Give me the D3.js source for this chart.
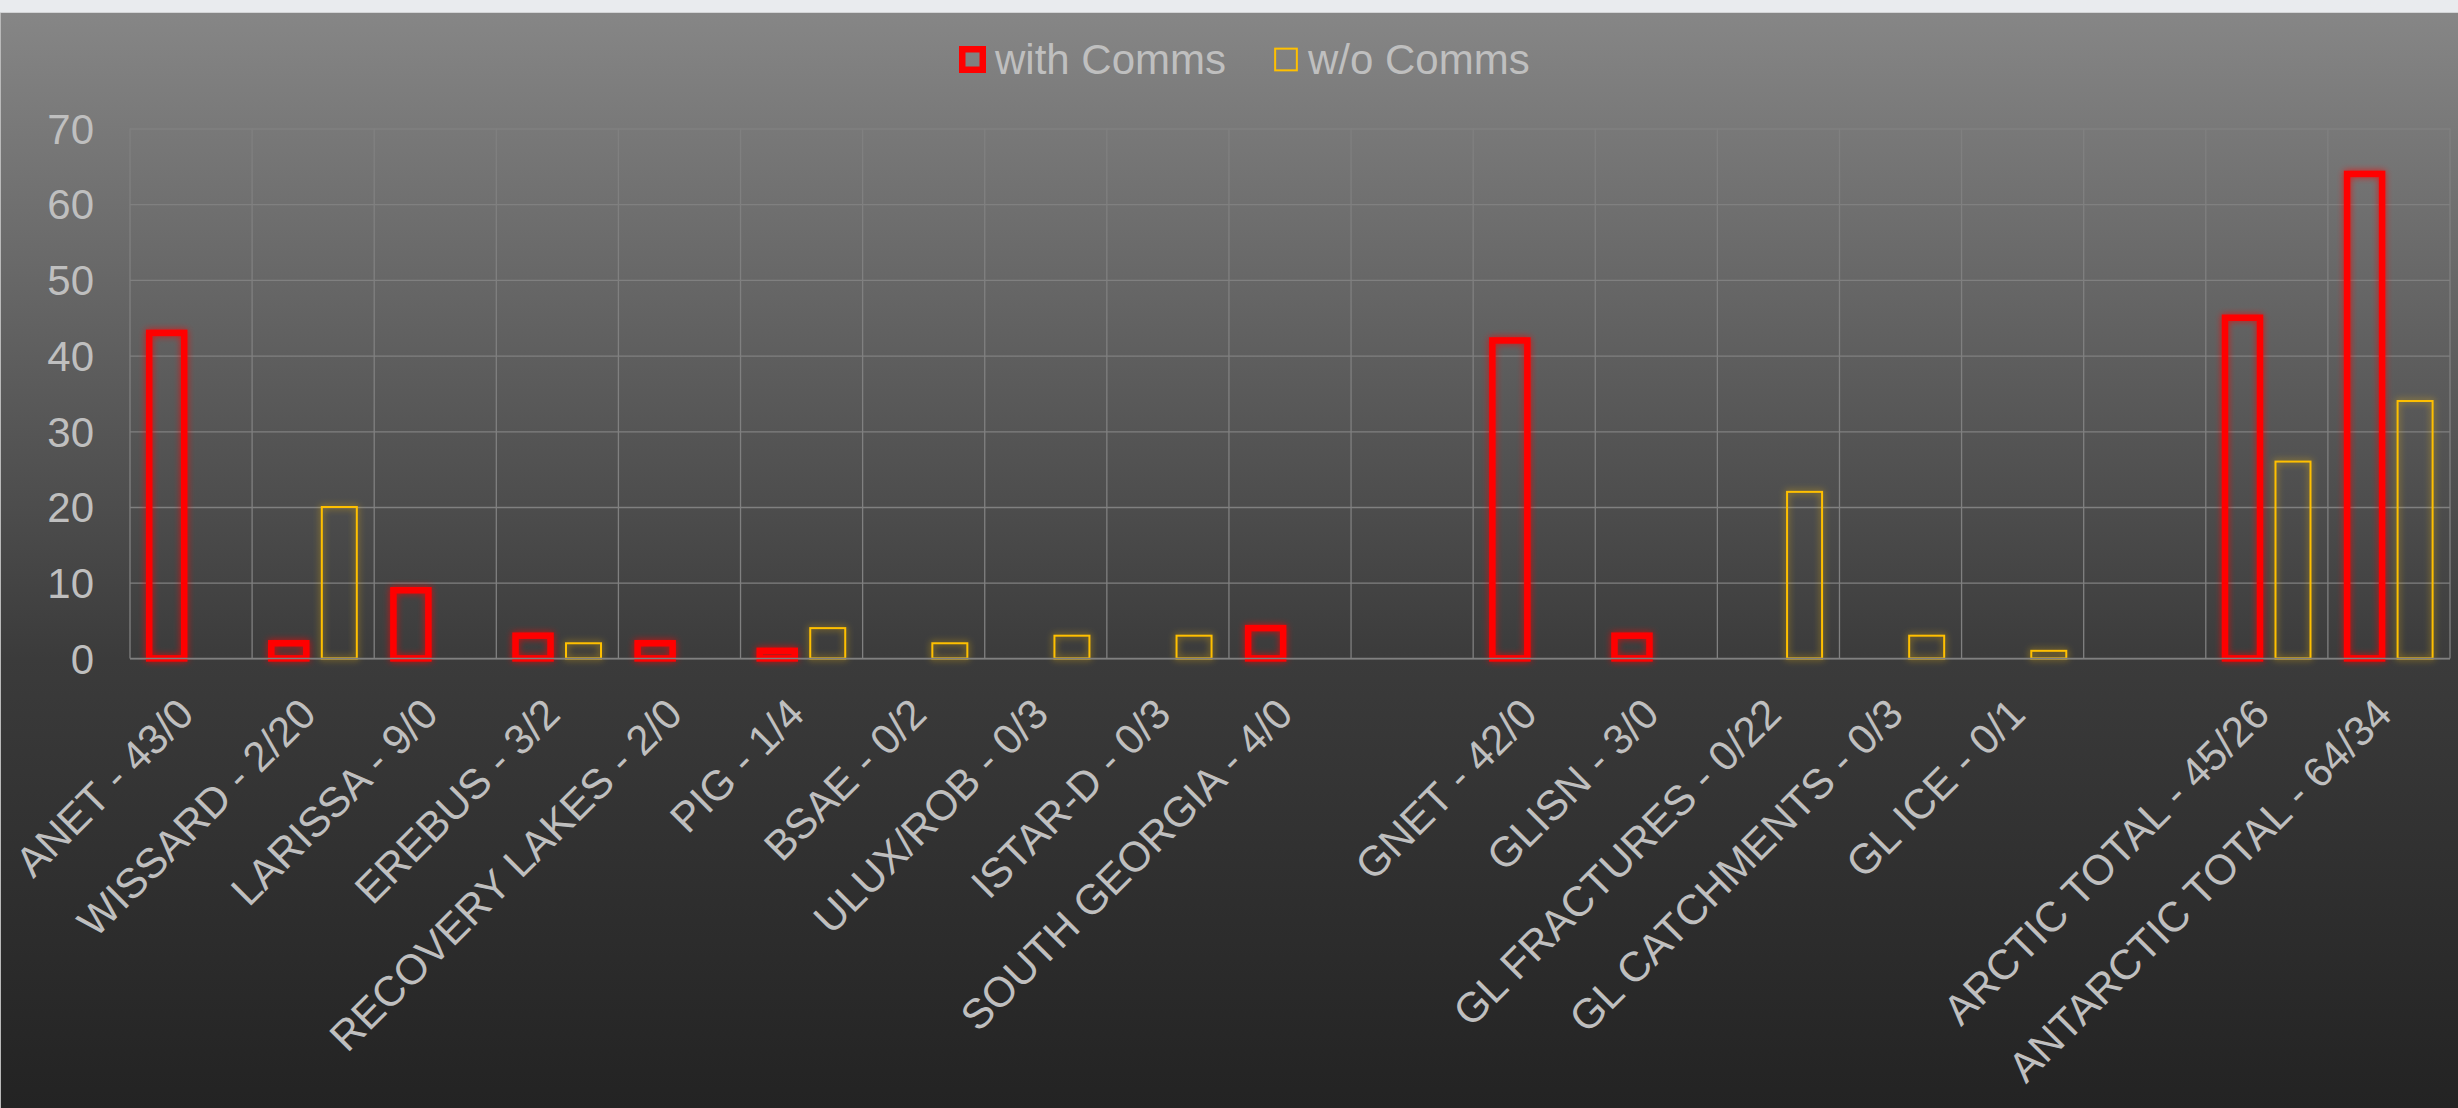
<!DOCTYPE html>
<html>
<head>
<meta charset="utf-8">
<script src="https://cdn.jsdelivr.net/npm/d3@7"></script>
<style>
  html, body { margin: 0; padding: 0; background: #262626; }
  svg { display: block; }
  text { font-family: "Liberation Sans", Arial, sans-serif; }
</style>
</head>
<body>
<svg id="chart" width="2458" height="1108"></svg>
<script>
// ---- data ----
const categories = [
  "ANET - 43/0", "WISSARD - 2/20", "LARISSA - 9/0", "EREBUS - 3/2",
  "RECOVERY LAKES - 2/0", "PIG - 1/4", "BSAE - 0/2", "ULUX/ROB - 0/3",
  "ISTAR-D - 0/3", "SOUTH GEORGIA - 4/0", "",
  "GNET - 42/0", "GLISN - 3/0", "GL FRACTURES - 0/22", "GL CATCHMENTS - 0/3",
  "GL ICE - 0/1", "",
  "ARCTIC TOTAL - 45/26", "ANTARCTIC TOTAL - 64/34"
];
const seriesNames = ["with Comms", "w/o Comms"];
const withComms = [43, 2, 9, 3, 2, 1, 0, 0, 0, 4, null, 42, 3, 0, 0, 0, null, 45, 64];
const withoutComms = [0, 20, 0, 2, 0, 4, 2, 3, 3, 0, null, 0, 0, 22, 3, 1, null, 26, 34];
const yTicks = [0, 10, 20, 30, 40, 50, 60, 70];
const seriesColors = ["#ff0000", "#ffc000"];

// ---- layout ----
const W = 2458, H = 1108;
const plot = { left: 130, right: 2450, top: 128.5, bottom: 658.4 };
const textColor = "#bfbfbf";
const gridColor = "#808080";

const svg = d3.select("#chart");
const defs = svg.append("defs");

const grad = defs.append("linearGradient")
  .attr("id", "bg").attr("x1", 0).attr("y1", 0).attr("x2", 0).attr("y2", 1);
grad.append("stop").attr("offset", "0%").attr("stop-color", "#868686");
grad.append("stop").attr("offset", "59%").attr("stop-color", "#3b3b3b");
grad.append("stop").attr("offset", "100%").attr("stop-color", "#232323");

seriesColors.forEach((c, i) => {
  const f = defs.append("filter").attr("id", "glow" + i)
    .attr("x", "-60%").attr("y", "-20%").attr("width", "220%").attr("height", "140%");
  f.append("feGaussianBlur").attr("in", "SourceGraphic").attr("stdDeviation", 3.5).attr("result", "blur");
  f.append("feComponentTransfer").attr("in", "blur").attr("result", "blurA")
    .append("feFuncA").attr("type", "linear").attr("slope", 0.75);
  const m = f.append("feMerge");
  m.append("feMergeNode").attr("in", "blurA");
  m.append("feMergeNode").attr("in", "SourceGraphic");
});

// page strip + background
svg.append("rect").attr("x", 0).attr("y", 0).attr("width", W).attr("height", 12).attr("fill", "#e9ebee");
svg.append("rect").attr("x", 0).attr("y", 12).attr("width", W).attr("height", 1).attr("fill", "#d2d3d5");
svg.append("rect").attr("x", 0).attr("y", 13).attr("width", W).attr("height", H - 13).attr("fill", "url(#bg)");
svg.append("rect").attr("x", 0).attr("y", 13).attr("width", 1).attr("height", H - 13).attr("fill", "#b9b9b9");

// ---- scales ----
const idx = d3.range(categories.length);
const x0 = d3.scaleBand().domain(idx).range([plot.left, plot.right]).padding(0);
const bw = x0.bandwidth();
const x1 = d3.scaleBand().domain([0, 1])
  .range([bw / 2 + 0.9 - 42.75, bw / 2 + 0.9 + 42.75])
  .paddingInner(0.307).paddingOuter(0);
const y = d3.scaleLinear().domain([0, 70]).range([plot.bottom, plot.top]);

// ---- grid ----
svg.append("g").selectAll("line").data(d3.range(categories.length + 1)).join("line")
  .attr("x1", d => plot.left + d * x0.step()).attr("x2", d => plot.left + d * x0.step())
  .attr("y1", plot.top).attr("y2", plot.bottom)
  .attr("stroke", gridColor).attr("stroke-width", 1.3);

const yAxis = svg.append("g").attr("transform", `translate(${plot.left},0)`)
  .call(d3.axisLeft(y).tickValues(yTicks).tickSize(-(plot.right - plot.left)).tickPadding(36).tickFormat(d3.format("d")));
yAxis.select(".domain").remove();
yAxis.selectAll(".tick line").attr("stroke", gridColor).attr("stroke-width", 1.3);
yAxis.selectAll(".tick text")
  .attr("fill", textColor).attr("font-size", 42).attr("dy", "0.35em")
  .style("font-family", "'Liberation Sans', Arial, sans-serif");

// ---- bars ----
const series = [withComms, withoutComms];
const strokeW = [6.5, 2];
series.forEach((vals, s) => {
  const data = vals.map((v, i) => ({ i, v })).filter(d => d.v);
  svg.append("g").attr("filter", `url(#glow${s})`)
    .selectAll("rect").data(data).join("rect")
    .attr("x", d => x0(d.i) + x1(s))
    .attr("width", x1.bandwidth())
    .attr("y", d => y(d.v))
    .attr("height", d => y(0) - y(d.v))
    .attr("fill", "none")
    .attr("stroke", seriesColors[s])
    .attr("stroke-width", strokeW[s]);
});

// ---- x axis ----
const xAxis = svg.append("g").attr("transform", `translate(0,${plot.bottom})`)
  .call(d3.axisBottom(x0).tickSize(0).tickFormat(i => categories[i]));
xAxis.select(".domain").attr("stroke", gridColor).attr("stroke-width", 1.5)
  .attr("d", `M${plot.left},0H${plot.right}`);
xAxis.selectAll(".tick text")
  .attr("fill", textColor).attr("font-size", 42)
  .attr("x", 0).attr("y", 0).attr("dy", null)
  .attr("text-anchor", "end")
  .attr("transform", "translate(5,58) rotate(-45)")
  .style("font-family", "'Liberation Sans', Arial, sans-serif");

// ---- legend ----
const legendItems = [
  { name: seriesNames[0], color: seriesColors[0], sw: 6.5, side: 20.5, cx: 972.5, tx: 995 },
  { name: seriesNames[1], color: seriesColors[1], sw: 2, side: 21.7, cx: 1286, tx: 1308 }
];
const lg = svg.append("g");
lg.selectAll("rect").data(legendItems).join("rect")
  .attr("x", d => d.cx - d.side / 2).attr("y", d => 59.5 - d.side / 2)
  .attr("width", d => d.side).attr("height", d => d.side)
  .attr("fill", "none").attr("stroke", d => d.color).attr("stroke-width", d => d.sw);
lg.selectAll("text").data(legendItems).join("text")
  .attr("x", d => d.tx).attr("y", 73.5)
  .attr("fill", textColor).attr("font-size", 42)
  .text(d => d.name);
</script>
</body>
</html>
